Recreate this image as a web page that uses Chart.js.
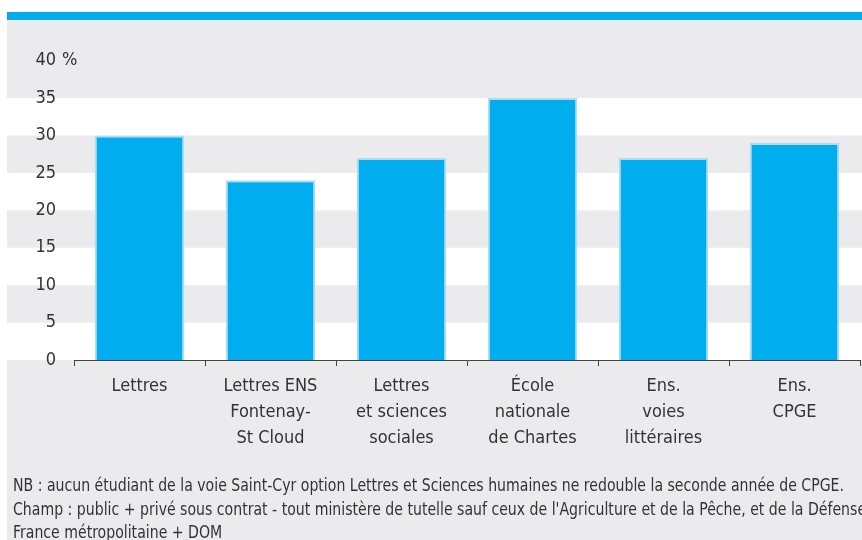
<!DOCTYPE html>
<html>
<head>
<meta charset="utf-8">
<script src="https://cdn.jsdelivr.net/npm/chart.js@4"></script>
<style>
  html, body { margin: 0; padding: 0; background: #fff; }
  #wrap { position: relative; width: 862px; height: 540px; }
</style>
</head>
<body>
<div id="wrap"><canvas id="myChart" width="862" height="540"></canvas></div>
<script>
const categories = [
  ["Lettres"],
  ["Lettres ENS", "Fontenay-", "St Cloud"],
  ["Lettres", "et sciences", "sociales"],
  ["École", "nationale", "de Chartes"],
  ["Ens.", "voies", "littéraires"],
  ["Ens.", "CPGE"]
];
const values = [30, 24, 27, 35, 27, 29];
const yTicks = [0, 5, 10, 15, 20, 25, 30, 35, 40];
const whiteBands = [[0, 5], [10, 15], [20, 25], [30, 35]];
const notes = [
  "NB : aucun étudiant de la voie Saint-Cyr option Lettres et Sciences humaines ne redouble la seconde année de CPGE.",
  "Champ : public + privé sous contrat - tout ministère de tutelle sauf ceux de l'Agriculture et de la Pêche, et de la Défense",
  "France métropolitaine + DOM"
];

const FONT = '"Liberation Sans Narrow", "DejaVu Sans Condensed", "Roboto", sans-serif';
const TEXT = "#333333";
const BLUE = "#00aeef";
const GREY = "#ebebed";

// background bands, top strip and footnotes
const decor = {
  id: "decor",
  beforeDraw(chart) {
    const ctx = chart.ctx;
    const y = chart.scales.y;
    ctx.save();
    ctx.fillStyle = GREY;
    ctx.fillRect(7, 20, chart.width - 7, chart.height - 20);
    ctx.fillStyle = "#ffffff";
    whiteBands.forEach(([lo, hi]) => {
      const top = y.getPixelForValue(hi);
      const bot = y.getPixelForValue(lo);
      ctx.fillRect(7, top, chart.width - 7, bot - top);
    });
    ctx.fillStyle = BLUE;
    ctx.fillRect(7, 12, chart.width - 7, 8);
    ctx.restore();
  },
  afterDraw(chart) {
    const ctx = chart.ctx;
    const y = chart.scales.y;
    ctx.save();
    ctx.fillStyle = TEXT;
    ctx.font = "18px " + FONT;
    ctx.textAlign = "left";
    ctx.textBaseline = "middle";
    ctx.fillText("%", 62, y.getPixelForValue(40));

    ctx.font = "18px " + FONT;
    ctx.textBaseline = "alphabetic";
    const k = 831 / ctx.measureText(notes[0]).width;
    const baselines = [491, 515, 538];
    notes.forEach((t, i) => {
      ctx.save();
      ctx.translate(13, baselines[i]);
      ctx.scale(k, 1);
      ctx.fillText(t, 0, 0);
      ctx.restore();
    });
    ctx.restore();
  }
};

const ctx = document.getElementById("myChart");

const data = {
  labels: categories,
  datasets: [{
    data: values,
    backgroundColor: BLUE,
    borderColor: "#b3dbee",
    borderWidth: 2,
    barPercentage: 0.684,
    categoryPercentage: 1
  }]
};

const config = {
  type: "bar",
  data: data,
  plugins: [decor],
  options: {
    responsive: false,
    animation: false,
    layout: { padding: { top: 60.6, right: 2, left: 0, bottom: 0 } },
    plugins: {
      legend: { display: false },
      tooltip: { enabled: false }
    },
    scales: {
      x: {
        offset: true,
        afterFit(scale) { scale.height = 180; },
        border: { display: true, color: "#444444", width: 1 },
        grid: {
          offset: true,
          drawOnChartArea: false,
          drawTicks: true,
          tickLength: 6,
          color: "#444444"
        },
        ticks: {
          autoSkip: false,
          maxRotation: 0,
          padding: 8,
          color: TEXT,
          font: { family: FONT, size: 18, lineHeight: 1.42 }
        }
      },
      y: {
        min: 0,
        max: 40,
        afterFit(scale) { scale.width = 74; },
        afterBuildTicks(scale) { scale.ticks = yTicks.map(v => ({ value: v })); },
        border: { display: false },
        grid: { display: false, drawTicks: false },
        ticks: {
          padding: 18,
          color: TEXT,
          font: { family: FONT, size: 18 }
        }
      }
    }
  }
};

const myChart = new Chart(ctx, config);
</script>
</body>
</html>
